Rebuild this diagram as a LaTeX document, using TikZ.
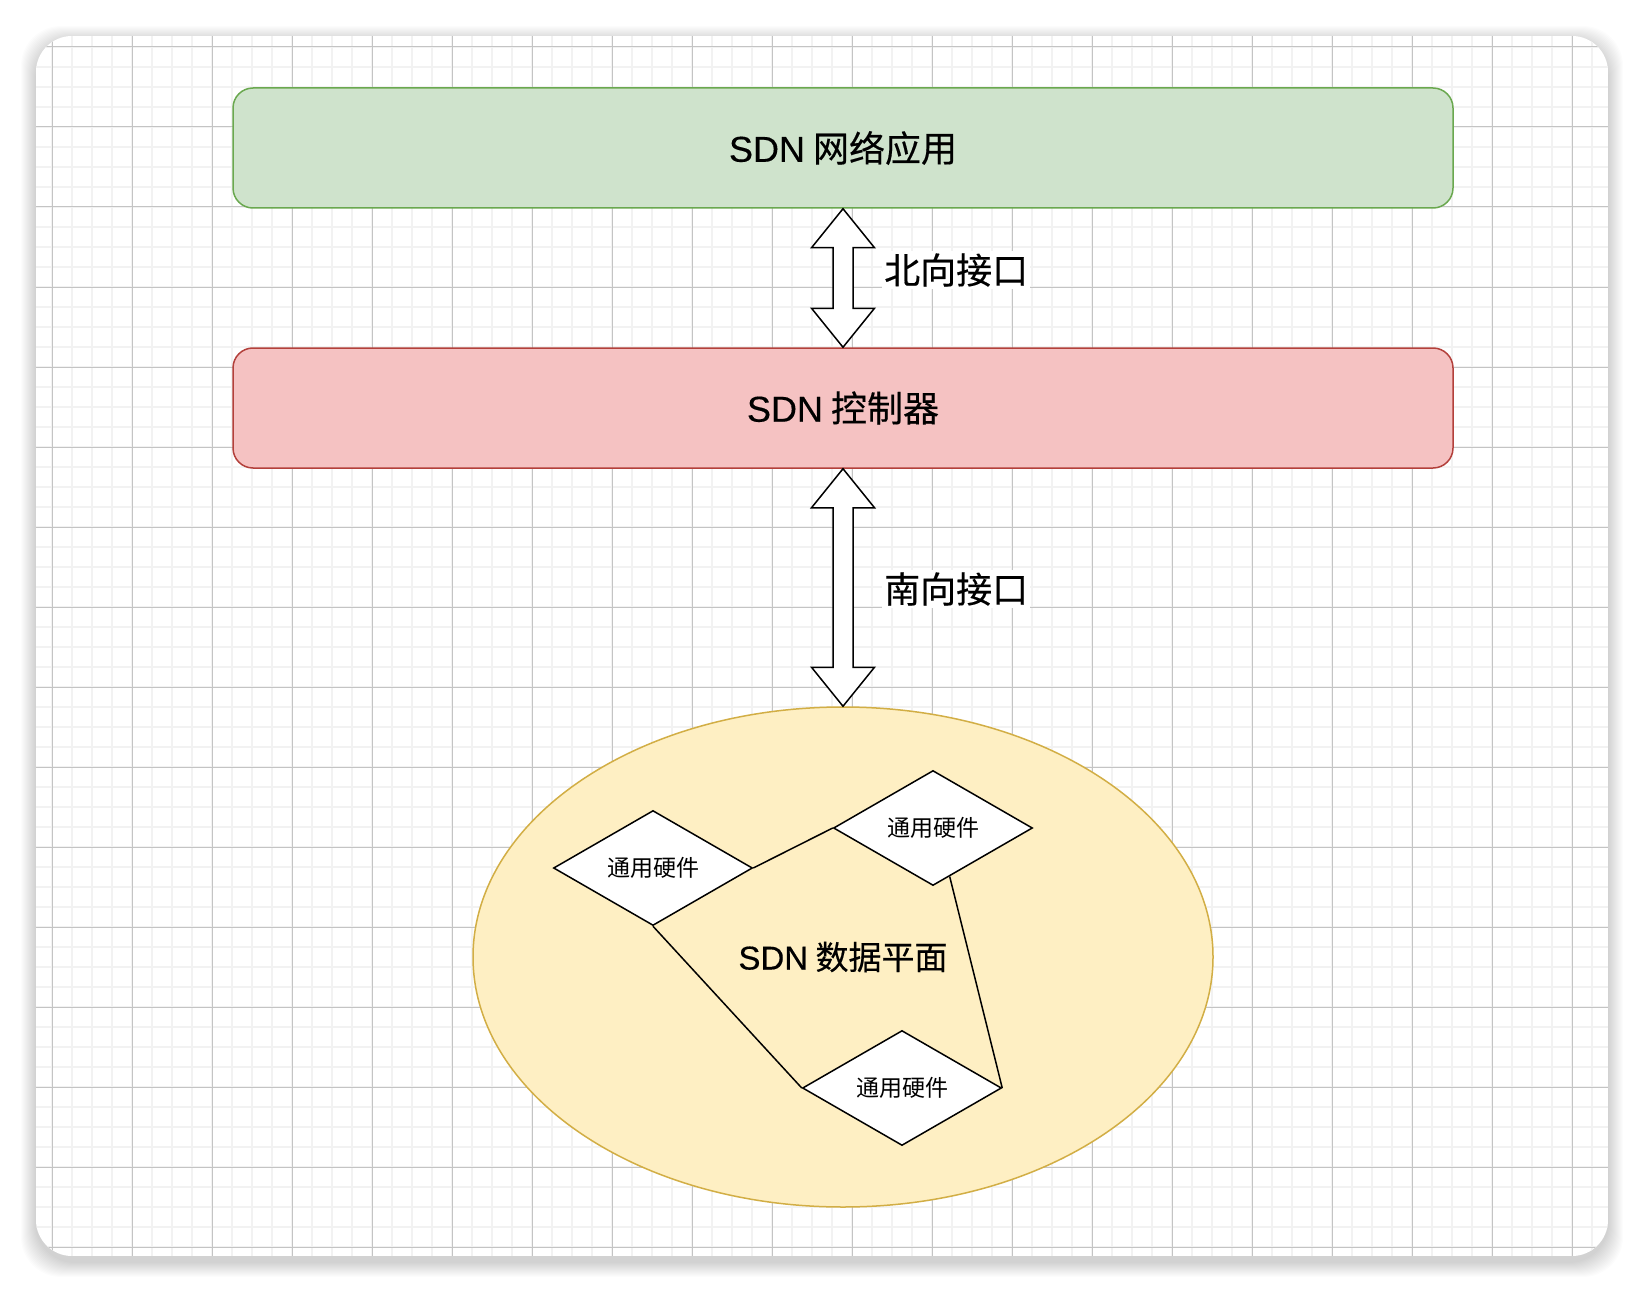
\documentclass[tikz,border=0pt]{standalone}
\usepackage{fontspec}
\setmainfont{Noto Sans CJK SC}
\newfontfamily\labelfont{Noto Sans CJK SC}[FakeBold=0.4]
\newfontfamily\latinfont{Liberation Sans}[FakeBold=0.4]
\usetikzlibrary{calc,shapes.geometric}

\definecolor{appfill}{HTML}{CFE3CC}
\definecolor{appline}{HTML}{6AA84F}
\definecolor{ctlfill}{HTML}{F5C2C2}
\definecolor{ctlline}{HTML}{B3403B}
\definecolor{datafill}{HTML}{FEEFC3}
\definecolor{dataline}{HTML}{D2AE45}
\definecolor{gridminor}{HTML}{F2F2F2}
\definecolor{gridmajor}{HTML}{C4C4C4}

\begin{document}
\begin{tikzpicture}[x=1pt,y=-1pt,
  layer/.style={draw, line width=1.5pt, rounded corners=20pt,
    minimum width=1220pt, minimum height=120pt,
    font=\labelfont\fontsize{36}{42}\selectfont},
  hw/.style={diamond, draw, fill=white, line width=1.5pt, aspect=1.73,
    minimum width=199pt, minimum height=115pt, inner sep=0pt,
    font=\fontsize{23}{28}\selectfont},
  fat/.style={draw, fill=white, line width=1.5pt, line join=miter},
  lbl/.style={fill=white, inner sep=2pt, anchor=west,
    font=\labelfont\fontsize{36}{42}\selectfont},
  link/.style={line width=1.5pt}]

\useasboundingbox (0,0) rectangle (1644,1292);

% Card shadow
\foreach \i in {1,...,15}
  \fill[black, opacity=0.011, rounded corners=40pt]
    (36-\i,36-\i+5) rectangle (1608+\i,1256+\i+6);

% Card with grid
\begin{scope}
  \clip[rounded corners=36pt] (36,36) rectangle (1608,1256);
  \fill[white] (36,36) rectangle (1608,1256);
  \foreach \x in {52,72,...,1600}
    \draw[gridminor, line width=2pt] (\x,36) -- (\x,1256);
  \foreach \y in {47,67,...,1250}
    \draw[gridminor, line width=2pt] (36,\y) -- (1608,\y);
  \foreach \x in {52,132,...,1600}
    \draw[gridmajor, line width=1pt] (\x,36) -- (\x,1256);
  \foreach \y in {47,127,...,1250}
    \draw[gridmajor, line width=1pt] (36,\y) -- (1608,\y);
\end{scope}

% Layers
\node[layer, draw=appline, fill=appfill] (app) at (843,148) {{\latinfont SDN} 网络应用};
\node[layer, draw=ctlline, fill=ctlfill] (ctl) at (843,408) {{\latinfont SDN} 控制器};
\node[ellipse, draw=dataline, fill=datafill, line width=1.5pt,
  minimum width=740pt, minimum height=500pt, inner sep=0pt,
  font=\labelfont\fontsize{33}{40}\selectfont] (data) at (843,957) {{\latinfont SDN} 数据平面};

% Hardware
\node[hw] (hw1) at (653,868) {通用硬件};
\node[hw] (hw2) at (933,828) {通用硬件};
\node[hw] (hw3) at (902,1088) {通用硬件};

\draw[link] (hw1.east) -- (hw2.west);
\draw[link] (hw1.south) -- (hw3.west);
\draw[link] (hw2.-71) -- (hw3.east);

% Northbound interface
\draw[fat] (app.south) -- ++(31.5,39) -- ++(-21.5,0)
  -- ($(ctl.north)+(10,-39)$) -- ++(21.5,0) -- (ctl.north)
  -- ++(-31.5,-39) -- ++(21.5,0) -- ($(app.south)+(-10,39)$)
  -- ++(-21.5,0) -- cycle;
\node[lbl] (nbi) at (882,270) {北向接口};

% Southbound interface
\draw[fat] (ctl.south) -- ++(31.5,39) -- ++(-21.5,0)
  -- ($(data.north)+(10,-39)$) -- ++(21.5,0) -- (data.north)
  -- ++(-31.5,-39) -- ++(21.5,0) -- ($(ctl.south)+(-10,39)$)
  -- ++(-21.5,0) -- cycle;
\node[lbl] (sbi) at (882,589) {南向接口};

\end{tikzpicture}
\end{document}
